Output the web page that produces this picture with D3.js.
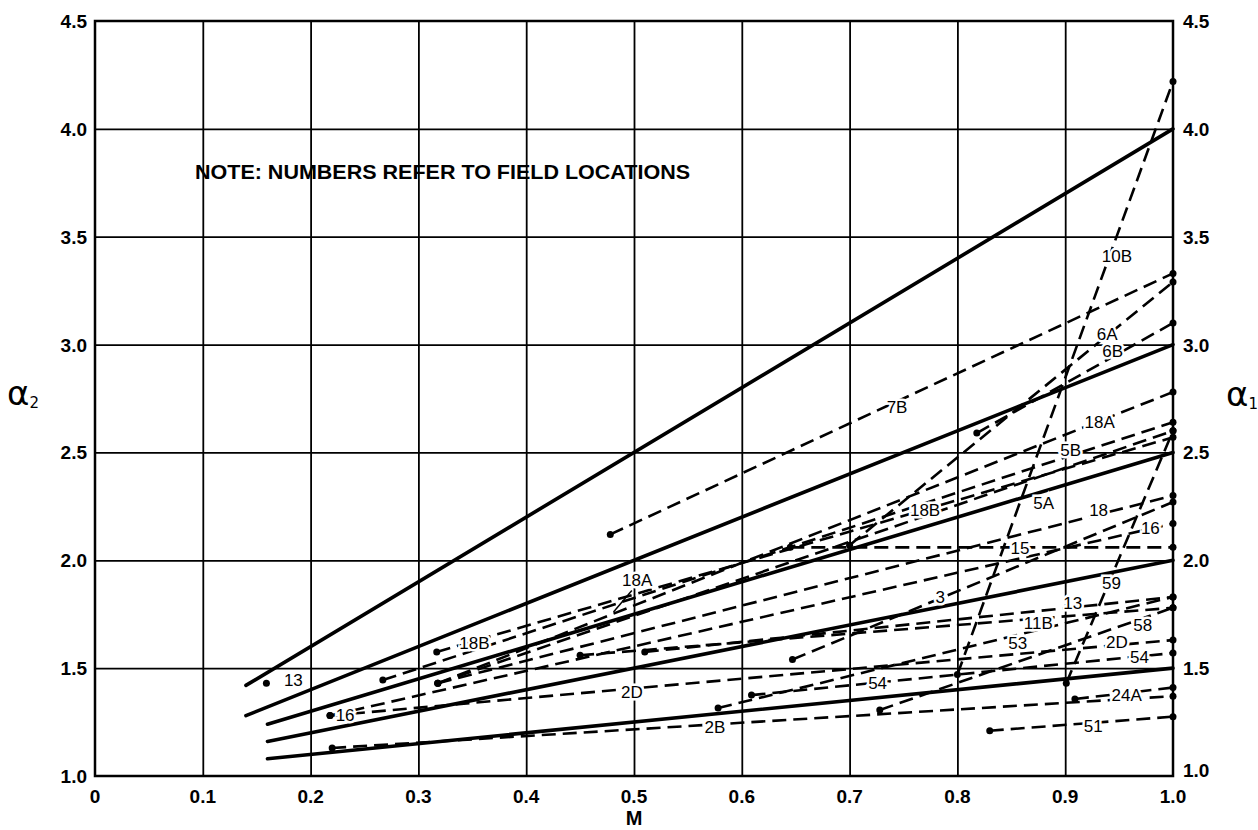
<!DOCTYPE html>
<html>
<head>
<meta charset="utf-8">
<script src="https://cdn.jsdelivr.net/npm/d3@7"></script>
<style>
  body { margin: 0; background: #fff; }
  svg { display: block; font-family: 'Liberation Sans', Arial, sans-serif; }
  .grid line { stroke: #000; stroke-width: 1.8; }
  .grid path { display: none; }
  .tick-label { font-size: 19px; font-weight: bold; fill: #000; }
  .field-label { font-size: 17px; fill: #000; stroke: #fff; stroke-width: 5; paint-order: stroke; }
</style>
</head>
<body>
<svg></svg>
<script>
var width = 1258;
var height = 830;
var plotLeft = 95, plotRight = 1173, plotTop = 21, plotBottom = 776;

// x / y ticks
var xTicks = [0, 0.1, 0.2, 0.3, 0.4, 0.5, 0.6, 0.7, 0.8, 0.9, 1.0];
var xTickLabels = ['0', '0.1', '0.2', '0.3', '0.4', '0.5', '0.6', '0.7', '0.8', '0.9', '1.0'];
var yTicks = [1.0, 1.5, 2.0, 2.5, 3.0, 3.5, 4.0, 4.5];

// solid reference lines (start M, start alpha, end alpha at M = 1.0)
var solidStartM = [0.14, 0.14, 0.16, 0.16, 0.16];
var solidStartA = [1.42, 1.28, 1.24, 1.16, 1.08];
var solidEndA = [4.0, 3.0, 2.5, 2.0, 1.5];

// dashed field lines: id, start point, end point (all end at M = 1.0)
var fieldIds =    ['10B', '7B',  '6A',  '6B',  '18A', '18B', '5B',  '5A',  '18',  '16',  '3',   '15',  '13',  '11B', '53',  '58',  '2D',  '54',  '59',  '24A', '2B',  '51'];
var fieldStartM = [0.80,  0.478, 0.70,  0.818, 0.318, 0.317, 0.267, 0.318, 0.318, 0.218, 0.647, 0.645, 0.51,  0.45,  0.578, 0.728, 0.218, 0.609, 0.901, 0.909, 0.22,  0.83];
var fieldStartA = [1.47,  2.12,  2.07,  2.59,  1.43,  1.575, 1.445, 1.43,  1.43,  1.28,  1.54,  2.06,  1.575, 1.56,  1.315, 1.306, 1.28,  1.375, 1.43,  1.357, 1.13,  1.21];
var fieldEndA =   [4.22,  3.33,  3.29,  3.10,  2.78,  2.57,  2.64,  2.60,  2.30,  2.17,  2.27,  2.06,  1.83,  1.78,  1.83,  1.78,  1.63,  1.57,  2.60,  1.41,  1.37,  1.275];

// single readings without a line
var loneM = [0.159];
var loneA = [1.43];

// field labels placed on the chart
var labelText = ['13', '13', '18B', '18B', '16', '16', '18A', '18A', '2D', '2D', '2B', '54', '54', '7B', '10B', '6A', '6B', '5B', '5A', '18', '15', '59', '3', '11B', '58', '53', '24A', '51'];
var labelM =    [0.184, 0.907, 0.352, 0.770, 0.232, 0.979, 0.503, 0.932, 0.498, 0.948, 0.575, 0.726, 0.969, 0.744, 0.948, 0.939, 0.944, 0.905, 0.880, 0.931, 0.858, 0.943, 0.784, 0.875, 0.972, 0.856, 0.957, 0.926];
var labelA =    [1.445, 1.80, 1.617, 2.235, 1.283, 2.15, 1.91, 2.64, 1.39, 1.62, 1.227, 1.43, 1.55, 2.71, 3.41, 3.05, 2.97, 2.51, 2.265, 2.235, 2.057, 1.895, 1.83, 1.71, 1.70, 1.615, 1.375, 1.23];

var svg = d3.select('svg')
			.attr('width', width)
			.attr('height', height);

var x = d3.scaleLinear().domain([0, 1]).range([plotLeft, plotRight]);
var y = d3.scaleLinear().domain([1, 4.5]).range([plotBottom, plotTop]);

// grid
svg.append('g')
	.classed('grid', true)
	.attr('transform', `translate(0, ${plotBottom})`)
	.call(d3.axisBottom(x).tickValues(xTicks.slice(1, -1)).tickSize(-(plotBottom - plotTop)).tickFormat(''));
svg.append('g')
	.classed('grid', true)
	.attr('transform', `translate(${plotLeft}, 0)`)
	.call(d3.axisLeft(y).tickValues(yTicks.slice(1, -1)).tickSize(-(plotRight - plotLeft)).tickFormat(''));

svg.append('rect')
	.attr('x', plotLeft)
	.attr('y', plotTop)
	.attr('width', plotRight - plotLeft)
	.attr('height', plotBottom - plotTop)
	.attr('fill', 'none')
	.attr('stroke', '#000')
	.attr('stroke-width', 2.5);

// tick labels
svg.selectAll('.xlab')
	.data(xTicks)
	.enter()
	.append('text')
	  .classed('tick-label', true)
	  .attr('x', d => x(d))
	  .attr('y', plotBottom + 27)
	  .attr('text-anchor', 'middle')
	  .text((d, i) => xTickLabels[i]);

svg.selectAll('.ylab')
	.data(yTicks)
	.enter()
	.append('text')
	  .classed('tick-label', true)
	  .attr('x', plotLeft - 8)
	  .attr('y', d => y(d) + 7)
	  .attr('text-anchor', 'end')
	  .text(d => d.toFixed(1));

svg.selectAll('.ylab2')
	.data(yTicks)
	.enter()
	.append('text')
	  .classed('tick-label', true)
	  .attr('x', plotRight + 10)
	  .attr('y', d => y(d) + 7 - (d === 1 ? 6 : 0))
	  .attr('text-anchor', 'start')
	  .text(d => d.toFixed(1));

// axis titles
svg.append('text')
	.attr('x', x(0.5))
	.attr('y', 825)
	.attr('text-anchor', 'middle')
	.attr('font-size', '20px')
	.attr('font-weight', 'bold')
	.text('M');

var a2 = svg.append('text')
	.attr('x', 7)
	.attr('y', 405)
	.attr('font-family', 'DejaVu Sans')
	.attr('font-size', '34px');
a2.append('tspan').text('α');
a2.append('tspan').attr('font-size', '15px').attr('dy', 3).text('2');

var a1 = svg.append('text')
	.attr('x', 1226)
	.attr('y', 406)
	.attr('font-family', 'DejaVu Sans')
	.attr('font-size', '34px');
a1.append('tspan').text('α');
a1.append('tspan').attr('font-size', '15px').attr('dy', 3).text('1');

svg.append('text')
	.attr('x', 195)
	.attr('y', 179)
	.attr('font-size', '21px')
	.attr('font-weight', 'bold')
	.attr('textLength', 495)
	.attr('lengthAdjust', 'spacingAndGlyphs')
	.text('NOTE: NUMBERS REFER TO FIELD LOCATIONS');

// solid lines
svg.selectAll('.solid')
	.data(solidEndA)
	.enter()
	.append('line')
	  .classed('solid', true)
	  .attr('x1', (d, i) => x(solidStartM[i]))
	  .attr('y1', (d, i) => y(solidStartA[i]))
	  .attr('x2', x(1))
	  .attr('y2', d => y(d))
	  .attr('stroke', '#000')
	  .attr('stroke-width', 3.6)
	  .attr('stroke-linecap', 'round');

// dashed field lines
svg.selectAll('.field')
	.data(fieldIds)
	.enter()
	.append('line')
	  .classed('field', true)
	  .attr('x1', (d, i) => x(fieldStartM[i]))
	  .attr('y1', (d, i) => y(fieldStartA[i]))
	  .attr('x2', x(1))
	  .attr('y2', (d, i) => y(fieldEndA[i]))
	  .attr('stroke', '#000')
	  .attr('stroke-width', 2.6)
	  .attr('stroke-dasharray', '14,7');

// end dots
svg.selectAll('.dot-start')
	.data(fieldIds)
	.enter()
	.append('circle')
	  .attr('cx', (d, i) => x(fieldStartM[i]))
	  .attr('cy', (d, i) => y(fieldStartA[i]))
	  .attr('r', 3.5);
svg.selectAll('.dot-end')
	.data(fieldIds)
	.enter()
	.append('circle')
	  .attr('cx', x(1))
	  .attr('cy', (d, i) => y(fieldEndA[i]))
	  .attr('r', 3.5);
svg.selectAll('.dot-lone')
	.data(loneM)
	.enter()
	.append('circle')
	  .attr('cx', d => x(d))
	  .attr('cy', (d, i) => y(loneA[i]))
	  .attr('r', 3.5);

// 18A leader
svg.append('line')
	.attr('x1', x(0.498))
	.attr('y1', y(1.86))
	.attr('x2', x(0.481))
	.attr('y2', y(1.76))
	.attr('stroke', '#000')
	.attr('stroke-width', 1.5);

// labels
svg.selectAll('.field-label')
	.data(labelText)
	.enter()
	.append('text')
	  .classed('field-label', true)
	  .attr('x', (d, i) => x(labelM[i]))
	  .attr('y', (d, i) => y(labelA[i]) + 6)
	  .attr('text-anchor', 'middle')
	  .text(d => d);
</script>
</body>
</html>
